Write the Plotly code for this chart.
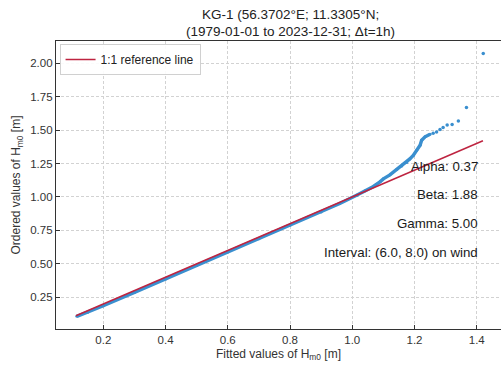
import plotly.graph_objects as go

# Q-Q body (dense band of overlapping points)
body_x = [0.115, 0.15, 0.2, 0.3, 0.4, 0.5, 0.6, 0.7, 0.8, 0.9, 0.96, 1.014, 1.04, 1.068, 1.089,
          1.10, 1.121, 1.143, 1.159, 1.175, 1.185, 1.196, 1.207, 1.218, 1.223, 1.234, 1.25]
body_y = [0.108, 0.138, 0.187, 0.287, 0.387, 0.488, 0.588, 0.688, 0.788, 0.888, 0.951, 1.013,
          1.045, 1.078, 1.113, 1.135, 1.165, 1.205, 1.232, 1.258, 1.284, 1.31, 1.348, 1.387,
          1.424, 1.449, 1.469]
# Q-Q tail (separate points)
tail_x = [1.26, 1.271, 1.282, 1.292, 1.305, 1.321, 1.341, 1.367, 1.421]
tail_y = [1.476, 1.486, 1.504, 1.519, 1.538, 1.541, 1.568, 1.668, 2.071]
# 1:1 reference line
ref_x = [0.112, 1.42]
ref_y = [0.112, 1.42]

x_ticks = [0.2, 0.4, 0.6, 0.8, 1.0, 1.2, 1.4]
y_ticks = [0.25, 0.5, 0.75, 1.0, 1.25, 1.5, 1.75, 2.0]

title_lines = ["KG-1 (56.3702°E; 11.3305°N;", "(1979-01-01 to 2023-12-31; Δt=1h)"]
info_lines = ["Alpha: 0.37", "Beta: 1.88", "Gamma: 5.00", "Interval: (6.0, 8.0) on wind"]
info_y = [1.225, 1.019, 0.802, 0.586]

BLUE = "#3a8fcf"
RED = "#be2440"
FONT = "Liberation Sans, Arial, sans-serif"

fig = go.Figure()
fig.add_trace(go.Scatter(x=body_x, y=body_y, mode="lines+markers",
                         line=dict(color=BLUE, width=3.4),
                         marker=dict(color=BLUE, size=3), showlegend=False, hoverinfo="skip"))
fig.add_trace(go.Scatter(x=tail_x, y=tail_y, mode="markers",
                         marker=dict(color=BLUE, size=3.5), showlegend=False))
fig.add_trace(go.Scatter(x=ref_x, y=ref_y, mode="lines", name="1:1 reference line",
                         line=dict(color=RED, width=1.5)))

for txt, yy in zip(info_lines, info_y):
    fig.add_annotation(x=1.410, y=yy, xref="x", yref="y", text=txt, showarrow=False,
                       xanchor="right", yanchor="middle",
                       font=dict(family=FONT, size=13.3, color="#1a1a1a"))

# two-line title, placed line by line
for txt, yp in zip(title_lines, [1.0903, 1.0323]):
    fig.add_annotation(x=0.528, y=yp, xref="paper", yref="paper", text=txt, showarrow=False,
                       xanchor="center", yanchor="middle",
                       font=dict(family=FONT, size=13.5, color="#222222"))

axis_common = dict(
    showline=True, linecolor="#333333", linewidth=1.3,
    ticks="inside", ticklen=4, tickwidth=1, tickcolor="#333333",
    showgrid=True, gridcolor="#d2d2d2", griddash="3px,2px", gridwidth=0.8,
    zeroline=False, tickfont=dict(family=FONT, size=11.5, color="#333333"),
)

fig.update_xaxes(range=[0.048, 1.478], tickvals=x_ticks, ticktext=[f"{v:.1f}" for v in x_ticks],
                 mirror=True,
                 title=dict(text="Fitted values of H<sub>m0</sub> [m]",
                            font=dict(family=FONT, size=12, color="#333333"), standoff=4),
                 **axis_common)
fig.update_yaxes(range=[0.0134, 2.165], tickvals=y_ticks, ticktext=[f"{v:.2f}" for v in y_ticks],
                 title=dict(text="Ordered values of H<sub>m0</sub> [m]",
                            font=dict(family=FONT, size=12, color="#333333"), standoff=6),
                 **axis_common)

fig.update_layout(
    width=501, height=367,
    margin=dict(l=56, r=0, t=41, b=38),
    plot_bgcolor="white", paper_bgcolor="white",
    font=dict(family=FONT, color="#222222"),
    legend=dict(x=0.008, y=0.99, xanchor="left", yanchor="top",
                bgcolor="rgba(255,255,255,0.9)", bordercolor="#d0d0d0", borderwidth=1,
                font=dict(family=FONT, size=12, color="#222222"), itemwidth=30),
)

fig.write_html("out.html", config={"displayModeBar": False},
               post_script="document.body.style.margin='0';document.body.style.overflow='hidden';")
